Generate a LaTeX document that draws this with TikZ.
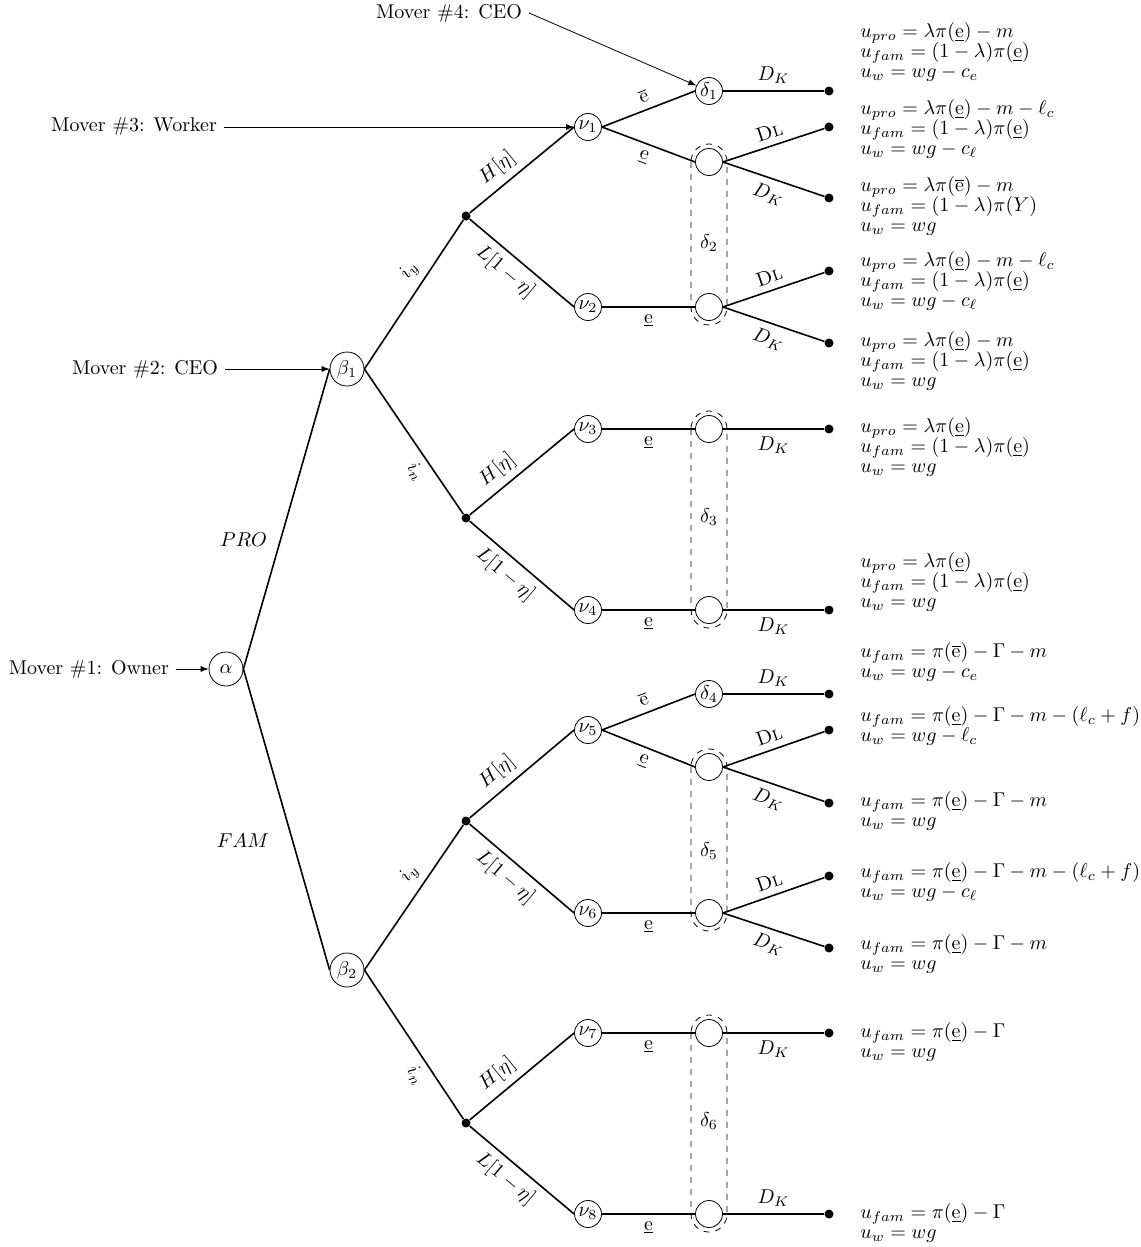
\documentclass[tikz,border=0pt]{standalone}
\usepackage{amsmath,amssymb}
\usetikzlibrary{arrows.meta}
\newcommand{\elow}{\underline{\mathrm{e}}}
\newcommand{\ehigh}{\overline{\mathrm{e}}}
\newcommand{\payoffspacing}{\setlength{\baselineskip}{10pt}\setlength{\lineskiplimit}{-20pt}}

\begin{document}
\begin{tikzpicture}[x=0.5pt, y=-0.5pt, >=latex,
    bigdec/.style={draw, circle, minimum size=17pt, inner sep=0pt},
    dec/.style={draw, circle, minimum size=13.5pt, inner sep=0pt},
    dot/.style={circle, fill, minimum size=4.5pt, inner sep=0pt},
    branch/.style={thick},
    infoset/.style={dashed, thin, rounded corners=8.9pt},
    payoff/.style={anchor=west, align=left, inner sep=0pt, font=\payoffspacing}]
\useasboundingbox (0,0) rectangle (1140,1247);

% movers
\node[anchor=east] (m1) at (176,669) {Mover \#1: Owner};
\node[anchor=east] (m2) at (225,369) {Mover \#2: CEO};
\node[anchor=east] (m3) at (224,127) {Mover \#3: Worker};
\node[anchor=east] (m4) at (529,13) {Mover \#4: CEO};

% owner and ceo
\node[bigdec] (alpha) at (226,669) {$\alpha$};
\node[bigdec] (b1) at (347,369) {$\beta_1$};
\node[bigdec] (b2) at (347,970) {$\beta_2$};

% nature
\node[dot] (c1) at (466,216) {};
\node[dot] (c2) at (466,518) {};
\node[dot] (c3) at (466,821) {};
\node[dot] (c4) at (466,1123) {};

% worker
\node[dec] (n1) at (588,127) {$\nu_1$};
\node[dec] (n2) at (588,307) {$\nu_2$};
\node[dec] (n3) at (588,429) {$\nu_3$};
\node[dec] (n4) at (588,610) {$\nu_4$};
\node[dec] (n5) at (588,730) {$\nu_5$};
\node[dec] (n6) at (588,913) {$\nu_6$};
\node[dec] (n7) at (588,1033) {$\nu_7$};
\node[dec] (n8) at (588,1214) {$\nu_8$};

% ceo again
\node[dec] (d1) at (709,91) {$\delta_1$};
\node[dec] (x1) at (709,162) {};
\node[dec] (x2) at (709,307) {};
\node[dec] (x3) at (709,429) {};
\node[dec] (x4) at (709,610) {};
\node[dec] (d4) at (709,694) {$\delta_4$};
\node[dec] (x5) at (709,767) {};
\node[dec] (x6) at (709,913) {};
\node[dec] (x7) at (709,1033) {};
\node[dec] (x8) at (709,1214) {};

% leaves
\node[dot] (t1) at (829,91) {};
\node[dot] (t2) at (829,127) {};
\node[dot] (t3) at (829,198) {};
\node[dot] (t4) at (829,271) {};
\node[dot] (t5) at (829,343) {};
\node[dot] (t6) at (829,429) {};
\node[dot] (t7) at (829,610) {};
\node[dot] (t8) at (829,694) {};
\node[dot] (t9) at (829,730) {};
\node[dot] (t10) at (829,803) {};
\node[dot] (t11) at (829,876) {};
\node[dot] (t12) at (829,948) {};
\node[dot] (t13) at (829,1033) {};
\node[dot] (t14) at (829,1214) {};

\draw[->] (m1.east) -- (alpha.west);
\draw[->] (m2.east) -- (b1.west);
\draw[->] (m3.east) -- (n1.west);
\draw[->] (m4.east) -- (d1);

\draw[branch] (alpha.east) -- node[left=3pt, pos=.43] {$PRO$} (b1.west);
\draw[branch] (alpha.east) -- node[left=8pt, pos=.57] {$FAM$} (b2.west);

\draw[branch] (b1.east) -- node[sloped, above, pos=.6] {$i_y$} (c1);
\draw[branch] (b1.east) -- node[sloped, below, pos=.65] {$i_n$} (c2);
\draw[branch] (b2.east) -- node[sloped, above, pos=.6] {$i_y$} (c3);
\draw[branch] (b2.east) -- node[sloped, below, pos=.65] {$i_n$} (c4);

\draw[branch] (c1) -- node[sloped, above, pos=.37] {$H[\eta]$} (n1.west);
\draw[branch] (c1) -- node[sloped, below, pos=.45] {$L[1-\eta]$} (n2.west);
\draw[branch] (c2) -- node[sloped, above, pos=.37] {$H[\eta]$} (n3.west);
\draw[branch] (c2) -- node[sloped, below, pos=.45] {$L[1-\eta]$} (n4.west);
\draw[branch] (c3) -- node[sloped, above, pos=.37] {$H[\eta]$} (n5.west);
\draw[branch] (c3) -- node[sloped, below, pos=.45] {$L[1-\eta]$} (n6.west);
\draw[branch] (c4) -- node[sloped, above, pos=.37] {$H[\eta]$} (n7.west);
\draw[branch] (c4) -- node[sloped, below, pos=.45] {$L[1-\eta]$} (n8.west);

\draw[branch] (n1.east) -- node[sloped, above] {$\ehigh$} (d1.west);
\draw[branch] (n1.east) -- node[sloped, below] {$\elow$} (x1.west);
\draw[branch] (n2.east) -- node[below] {$\elow$} (x2.west);
\draw[branch] (n3.east) -- node[below] {$\elow$} (x3.west);
\draw[branch] (n4.east) -- node[below] {$\elow$} (x4.west);
\draw[branch] (n5.east) -- node[sloped, above] {$\ehigh$} (d4.west);
\draw[branch] (n5.east) -- node[sloped, below] {$\elow$} (x5.west);
\draw[branch] (n6.east) -- node[below] {$\elow$} (x6.west);
\draw[branch] (n7.east) -- node[below] {$\elow$} (x7.west);
\draw[branch] (n8.east) -- node[below] {$\elow$} (x8.west);

\draw[branch] (d1.east) -- node[above] {$D_K$} (t1);
\draw[branch] (x1.east) -- node[sloped, above] {\textsc{Dl}} (t2);
\draw[branch] (x1.east) -- node[sloped, below] {$D_K$} (t3);
\draw[branch] (x2.east) -- node[sloped, above] {\textsc{Dl}} (t4);
\draw[branch] (x2.east) -- node[sloped, below] {$D_K$} (t5);
\draw[branch] (x3.east) -- node[below] {$D_K$} (t6);
\draw[branch] (x4.east) -- node[below] {$D_K$} (t7);
\draw[branch] (d4.east) -- node[above] {$D_K$} (t8);
\draw[branch] (x5.east) -- node[sloped, above] {\textsc{Dl}} (t9);
\draw[branch] (x5.east) -- node[sloped, below] {$D_K$} (t10);
\draw[branch] (x6.east) -- node[sloped, above] {\textsc{Dl}} (t11);
\draw[branch] (x6.east) -- node[sloped, below] {$D_K$} (t12);
\draw[branch] (x7.east) -- node[below] {$D_K$} (t13);
\draw[branch] (x8.east) -- node[above] {$D_K$} (t14);

% information sets
\draw[infoset] ([xshift=-9pt, yshift=9pt]x1.center) rectangle ([xshift=9pt, yshift=-9pt]x2.center);
\draw[infoset] ([xshift=-9pt, yshift=9pt]x3.center) rectangle ([xshift=9pt, yshift=-9pt]x4.center);
\draw[infoset] ([xshift=-9pt, yshift=9pt]x5.center) rectangle ([xshift=9pt, yshift=-9pt]x6.center);
\draw[infoset] ([xshift=-9pt, yshift=9pt]x7.center) rectangle ([xshift=9pt, yshift=-9pt]x8.center);
\node (s2) at (709,243) {$\delta_2$};
\node (s3) at (709,517) {$\delta_3$};
\node (s5) at (709,851) {$\delta_5$};
\node (s6) at (709,1121) {$\delta_6$};

% payoffs
\node[payoff] (p1) at (860,52) {$u_{pro} = \lambda\pi(\elow) - m$\\ $u_{fam} = (1-\lambda)\pi(\elow)$\\ $u_w = wg - c_e$};
\node[payoff] (p2) at (860,129) {$u_{pro} = \lambda\pi(\elow) - m - \ell_c$\\ $u_{fam} = (1-\lambda)\pi(\elow)$\\ $u_w = wg - c_\ell$};
\node[payoff] (p3) at (860,206) {$u_{pro} = \lambda\pi(\ehigh) - m$\\ $u_{fam} = (1-\lambda)\pi(Y)$\\ $u_w = wg$};
\node[payoff] (p4) at (860,281) {$u_{pro} = \lambda\pi(\elow) - m - \ell_c$\\ $u_{fam} = (1-\lambda)\pi(\elow)$\\ $u_w = wg - c_\ell$};
\node[payoff] (p5) at (860,361) {$u_{pro} = \lambda\pi(\elow) - m$\\ $u_{fam} = (1-\lambda)\pi(\elow)$\\ $u_w = wg$};
\node[payoff] (p6) at (860,447) {$u_{pro} = \lambda\pi(\elow)$\\ $u_{fam} = (1-\lambda)\pi(\elow)$\\ $u_w = wg$};
\node[payoff] (p7) at (860,582) {$u_{pro} = \lambda\pi(\elow)$\\ $u_{fam} = (1-\lambda)\pi(\elow)$\\ $u_w = wg$};
\node[payoff] (p8) at (860,662) {$u_{fam} = \pi(\ehigh) - \Gamma - m$\\ $u_w = wg - c_e$};
\node[payoff] (p9) at (860,726) {$u_{fam} = \pi(\elow) - \Gamma - m - (\ell_c + f)$\\ $u_w = wg - \ell_c$};
\node[payoff] (p10) at (860,811) {$u_{fam} = \pi(\elow) - \Gamma - m$\\ $u_w = wg$};
\node[payoff] (p11) at (860,882) {$u_{fam} = \pi(\elow) - \Gamma - m - (\ell_c + f)$\\ $u_w = wg - c_\ell$};
\node[payoff] (p12) at (860,954) {$u_{fam} = \pi(\elow) - \Gamma - m$\\ $u_w = wg$};
\node[payoff] (p13) at (860,1042) {$u_{fam} = \pi(\elow) - \Gamma$\\ $u_w = wg$};
\node[payoff] (p14) at (860,1223) {$u_{fam} = \pi(\elow) - \Gamma$\\ $u_w = wg$};
\end{tikzpicture}
\end{document}
